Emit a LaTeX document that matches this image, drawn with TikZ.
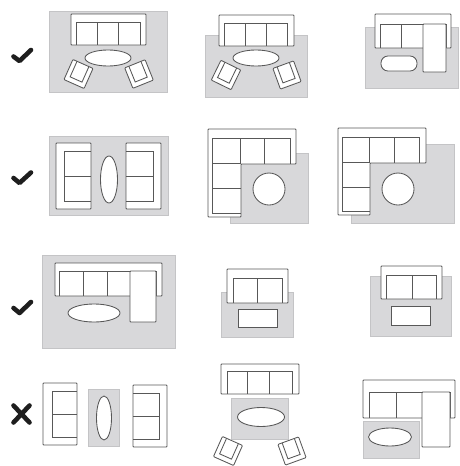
\documentclass[tikz,border=0pt]{standalone}
\usepackage{xcolor}
\usetikzlibrary{calc}
\definecolor{rugx}{HTML}{D8D8DA}
\definecolor{rugedge}{HTML}{C4C4C6}
\definecolor{linex}{HTML}{585858}
\definecolor{markx}{HTML}{1E1E1E}
\tikzset{
  rug/.style={fill=rugx,draw=rugedge,line width=0.6pt},
  sofa/.style={fill=white,draw=linex,line width=0.85pt,rounded corners=0.8pt},
  seat/.style={draw=linex,line width=0.85pt},
  tbl/.style={fill=white,draw=linex,line width=0.85pt},
  markline/.style={draw=markx,line width=4.6pt,line join=round,line cap=round},
  chair/.pic={
    \draw[sofa] (-11,-11) rectangle (11,11);
    \draw[seat] (-6.5,-11) -- (-6.5,6) -- (6.5,6) -- (6.5,-11);
  }
}
\begin{document}
\begin{tikzpicture}[x=1pt,y=-1pt]
\useasboundingbox (0,0) rectangle (459,466);
% marks
\draw[markline] (13.5,56.5) -- (19.5,61) -- (31,50);
\draw[markline] (13.5,178) -- (19.5,183) -- (31,172.5);
\draw[markline] (13.5,308) -- (19.5,313) -- (31,302);
\draw[markline] (13.5,405.5) -- (29.5,422.5);
\draw[markline] (29.5,405.5) -- (13.5,422.5);
% row 1
\draw[rug] (49,11) rectangle (167,92);
\draw[sofa] (71,14) rectangle (146,45);
\draw[seat] (76,45) |- (140,22) -- (140,45);
\foreach \x in {97,118} \draw[seat] (\x,22) -- (\x,45);
\draw[tbl] (108,58) ellipse (23 and 8);
\pic[rotate=-24] at (78.5,74) {chair};
\pic[rotate=22] at (139,74) {chair};
\draw[rug] (205,35) rectangle (307,97);
\draw[sofa] (219,15) rectangle (294,46);
\draw[seat] (224,46) |- (287,23) -- (287,46);
\foreach \x in {245,266} \draw[seat] (\x,23) -- (\x,46);
\draw[tbl] (256,58) ellipse (23 and 8);
\pic[rotate=-26] at (226,75) {chair};
\pic[rotate=20] at (287,75) {chair};
\draw[rug] (365,27) rectangle (458,88);
\draw[sofa] (375,14) rectangle (451,48);
\draw[seat] (380,48) |- (446,24) -- (446,48);
\foreach \x in {401,423} \draw[seat] (\x,24) -- (\x,48);
\draw[sofa] (423,24) rectangle (446,72);
\draw[tbl,rounded corners=7pt] (381,56) rectangle (417,71);
% row 2
\draw[rug] (49,136) rectangle (168,215);
\draw[sofa] (56,143) rectangle (91,209);
\draw[seat] (91,151) -| (64,201) -- (91,201);
\draw[seat] (64,176) -- (91,176);
\draw[tbl] (109,179.5) ellipse (8.5 and 23.5);
\draw[sofa] (126,143) rectangle (161,209);
\draw[seat] (126,151) -| (153,201) -- (126,201);
\draw[seat] (126,176) -- (153,176);
\draw[rug] (230,153) rectangle (308,223);
\draw[sofa] (208,129) -- (296,129) -- (296,164) -- (241,164) -- (241,217) -- (208,217) -- cycle;
\draw[seat] (212,213) -- (212,138) -- (290,138) -- (290,164);
\draw[seat] (212,213) -- (241,213);
\foreach \x in {240,264} \draw[seat] (\x,138) -- (\x,164);
\foreach \y in {163,188} \draw[seat] (212,\y) -- (241,\y);
\draw[tbl] (269,189) circle (16);
\draw[rug] (351,144) rectangle (454,223);
\draw[sofa] (338,128) -- (426,128) -- (426,163) -- (370,163) -- (370,215) -- (338,215) -- cycle;
\draw[seat] (342,211) -- (342,137) -- (419,137) -- (419,163);
\draw[seat] (342,211) -- (370,211);
\foreach \x in {369,394} \draw[seat] (\x,137) -- (\x,163);
\foreach \y in {162,187} \draw[seat] (342,\y) -- (370,\y);
\draw[tbl] (398,189) circle (16);
% row 3
\draw[rug] (42,255) rectangle (175,348);
\draw[sofa] (55,263) rectangle (162,296);
\draw[seat] (59,296) |- (156,271) -- (156,296);
\foreach \x in {83,107} \draw[seat] (\x,271) -- (\x,296);
\draw[sofa] (130,271) rectangle (156,322);
\draw[tbl] (94,313) ellipse (26 and 9);
\draw[rug] (221,292) rectangle (293,337);
\draw[sofa] (227,269) rectangle (288,303);
\draw[seat] (233,303) |- (282,278) -- (282,303);
\draw[seat] (257,278) -- (257,303);
\draw[tbl] (238,309) rectangle (277,327);
\draw[rug] (370,276) rectangle (451,336);
\draw[sofa] (381,266) rectangle (442,299);
\draw[seat] (386,299) |- (436,275) -- (436,299);
\draw[seat] (412,275) -- (412,299);
\draw[tbl] (391,306) rectangle (430,325);
% row 4
\draw[sofa] (43,383) rectangle (77,445);
\draw[seat] (77,391) -| (52,437) -- (77,437);
\draw[seat] (52,414) -- (77,414);
\draw[rug] (88,389) rectangle (119,446);
\draw[tbl] (104,418) ellipse (7.5 and 22);
\draw[sofa] (133,385) rectangle (167,447);
\draw[seat] (133,393) -| (159,439) -- (133,439);
\draw[seat] (133,416) -- (159,416);
\draw[sofa] (221,364) rectangle (299,394);
\draw[seat] (227,394) |- (292,371) -- (292,394);
\foreach \x in {247,269} \draw[seat] (\x,371) -- (\x,394);
\draw[rug] (231,398) rectangle (288,439);
\draw[tbl] (261,417) ellipse (23.5 and 9.5);
\pic[rotate=-24] at (228,451) {chair};
\pic[rotate=20] at (292,451) {chair};
\draw[sofa] (363,380) rectangle (455,418);
\draw[seat] (369,418) |- (450,392) -- (450,418);
\foreach \x in {396,422} \draw[seat] (\x,392) -- (\x,418);
\draw[sofa] (422,392) rectangle (450,447);
\draw[rug] (363,421) rectangle (419,458);
\draw[tbl] (390,437) ellipse (21.5 and 9);
\end{tikzpicture}
\end{document}
